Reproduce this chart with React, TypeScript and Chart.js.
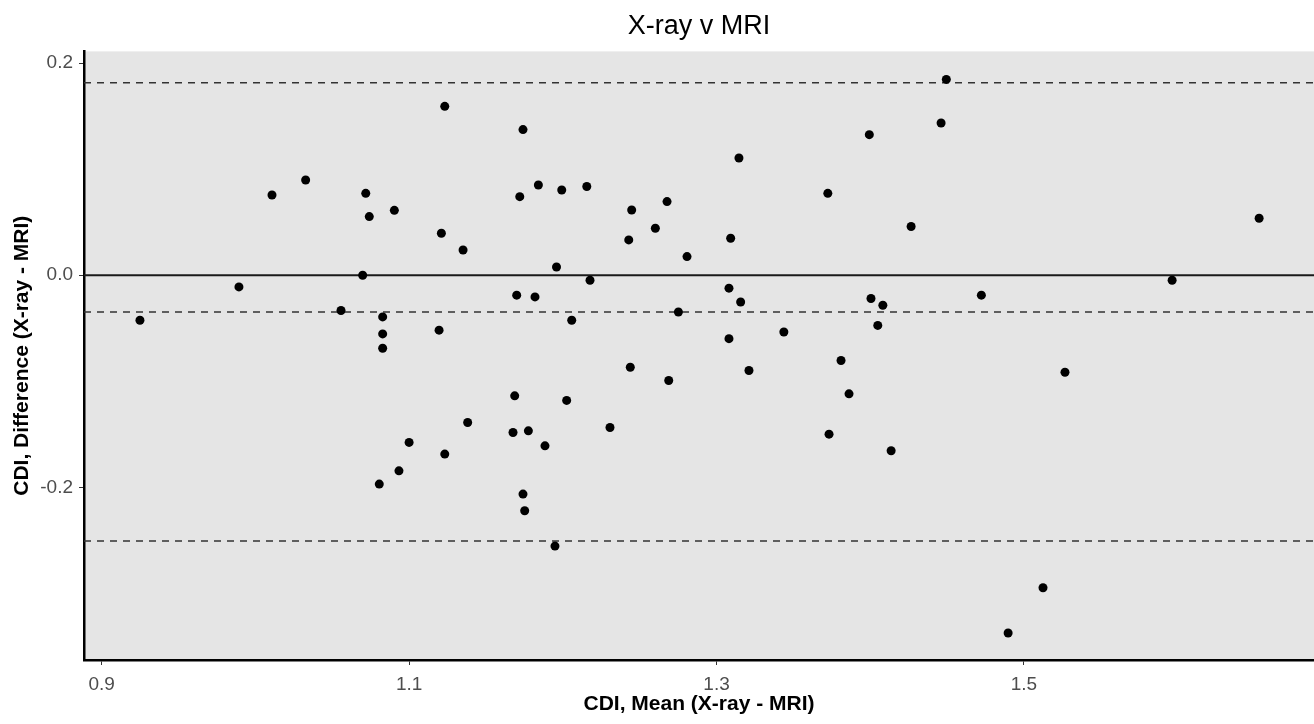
import React, { useEffect, useRef } from 'react';
import { Chart, registerables } from 'chart.js';

Chart.register(...registerables);

// CDI mean of X-ray and MRI (x) and their difference (y), one entry per subject
const meanX = [
  0.9249, 0.9893, 1.0108, 1.0327, 1.0557, 1.0698, 1.0718, 1.0741, 1.0904, 1.0828,
  1.0828, 1.0828, 1.1195, 1.1210, 1.1232, 1.1351, 1.1381, 1.1000, 1.1232, 1.0934,
  1.0806, 1.1741, 1.1720, 1.1841, 1.1993, 1.2156, 1.2448, 1.2429, 1.2602, 1.2678,
  1.2808, 1.1959, 1.2177, 1.1700, 1.1819, 1.2058, 1.2752, 1.3081, 1.3157, 1.3081,
  1.3438, 1.3146, 1.3092, 1.3724, 1.3994, 1.4005, 1.4082, 1.4049, 1.3810, 1.3211,
  1.2439, 1.2689, 1.3862, 1.1687, 1.2025, 1.2307, 1.1676, 1.1776, 1.3732, 1.1884,
  1.4136, 1.1741, 1.1752, 1.1949, 1.4495, 1.4461, 1.4266, 1.6530, 1.5964, 1.4723,
  1.5267, 1.5124, 1.4897,
];
const diffY = [
  -0.0424, -0.0110, 0.0756, 0.0898, -0.0332, 0.0000, 0.0772, 0.0553, 0.0612, -0.0393,
  -0.0553, -0.0688, -0.0518, 0.0396, 0.1592, 0.0238, -0.1388, -0.1576, -0.1686, -0.1844,
  -0.1969, 0.1373, 0.0741, 0.0851, 0.0804, 0.0836, 0.0615, 0.0333, 0.0443, 0.0694,
  0.0176, 0.0078, -0.0047, -0.0188, -0.0204, -0.0424, -0.0347, -0.0122, -0.0252, -0.0598,
  -0.0535, 0.1105, 0.0349, 0.0772, 0.1325, -0.0219, -0.0283, -0.0473, -0.0804, -0.0898,
  -0.0867, -0.0992, -0.1118, -0.1137, -0.1180, -0.1435, -0.1482, -0.1467, -0.1498, -0.1608,
  -0.1655, -0.2063, -0.2220, -0.2553, 0.1846, 0.1435, 0.0459, 0.0537, -0.0047, -0.0188,
  -0.0914, -0.2946, -0.3373,
];

// Bland-Altman reference lines
const bias = -0.0346;
const upperLoA = 0.1815;
const lowerLoA = -0.2506;
const zeroLine = 0;

// Axis ticks and ranges
const xTicks = [0.9, 1.1, 1.3, 1.5];
const yTicks = [-0.2, 0.0, 0.2];
const X_MIN = 0.8885;
const X_MAX = 1.6887;
const Y_MIN = -0.3627;
const Y_MAX = 0.211;

const FONT = "'Liberation Sans', Arial, Helvetica, sans-serif";

const panelBackground = {
  id: 'panelBackground',
  beforeDraw(chart: any) {
    const { ctx, chartArea } = chart;
    if (!chartArea) return;
    ctx.save();
    ctx.fillStyle = '#E5E5E5';
    ctx.fillRect(chartArea.left, chartArea.top, chartArea.right - chartArea.left, chartArea.bottom - chartArea.top);
    ctx.restore();
  },
};

function hLine(y: number) {
  return [
    { x: X_MIN, y },
    { x: X_MAX, y },
  ];
}

export default function App() {
  const canvasRef = useRef<HTMLCanvasElement | null>(null);

  useEffect(() => {
    if (!canvasRef.current) return;
    const points = meanX.map((x, i) => ({ x, y: diffY[i] }));
    const chart = new Chart(canvasRef.current, {
      type: 'scatter',
      data: {
        datasets: [
          {
            label: 'Subjects',
            data: points,
            pointRadius: 4.5,
            pointBackgroundColor: '#000000',
            pointBorderColor: '#000000',
            pointBorderWidth: 0,
            showLine: false,
          },
          {
            label: 'Zero',
            data: hLine(zeroLine),
            showLine: true,
            borderColor: '#1a1a1a',
            borderWidth: 1.8,
            pointRadius: 0,
          },
          {
            label: 'Bias',
            data: hLine(bias),
            showLine: true,
            borderColor: '#333333',
            borderWidth: 1.5,
            borderDash: [7, 6],
            pointRadius: 0,
          },
          {
            label: 'Upper LoA',
            data: hLine(upperLoA),
            showLine: true,
            borderColor: '#333333',
            borderWidth: 1.5,
            borderDash: [7, 6],
            pointRadius: 0,
          },
          {
            label: 'Lower LoA',
            data: hLine(lowerLoA),
            showLine: true,
            borderColor: '#333333',
            borderWidth: 1.5,
            borderDash: [7, 6],
            pointRadius: 0,
          },
        ],
      },
      options: {
        responsive: false,
        animation: false,
        layout: { autoPadding: false, padding: { left: 0, right: 0, top: 0, bottom: 0 } },
        plugins: {
          legend: { display: false },
          tooltip: { enabled: false },
          title: {
            display: true,
            fullSize: false,
            text: 'X-ray v MRI',
            color: '#000000',
            font: { family: FONT, size: 27, weight: 'normal' },
            padding: { top: 10, bottom: 9 },
          },
        },
        scales: {
          x: {
            type: 'linear',
            min: X_MIN,
            max: X_MAX,
            afterBuildTicks: (scale: any) => {
              scale.ticks = xTicks.map((v) => ({ value: v }));
            },
            afterFit: (scale: any) => {
              scale.height = 64;
              scale.paddingLeft = 0;
              scale.paddingRight = 0;
            },
            grid: {
              display: true,
              drawOnChartArea: false,
              drawTicks: true,
              tickLength: 5,
              tickColor: '#333333',
              tickWidth: 1,
            },
            border: { display: true, color: '#000000', width: 2.5 },
            ticks: {
              color: '#4D4D4D',
              padding: 8,
              font: { family: FONT, size: 19 },
              callback: (v: any) => Number(v).toFixed(1),
            },
            title: {
              display: true,
              text: 'CDI, Mean (X-ray - MRI)',
              color: '#000000',
              font: { family: FONT, size: 21, weight: 'bold' },
              padding: { top: 0, bottom: 7 },
            },
          },
          y: {
            type: 'linear',
            min: Y_MIN,
            max: Y_MAX,
            afterBuildTicks: (scale: any) => {
              scale.ticks = yTicks.map((v) => ({ value: v }));
            },
            afterFit: (scale: any) => {
              scale.width = 84;
              scale.paddingTop = 0;
              scale.paddingBottom = 0;
            },
            grid: {
              display: true,
              drawOnChartArea: false,
              drawTicks: true,
              tickLength: 5,
              tickColor: '#333333',
              tickWidth: 1,
            },
            border: { display: true, color: '#000000', width: 2.5 },
            ticks: {
              color: '#4D4D4D',
              padding: 6,
              font: { family: FONT, size: 19 },
              callback: (v: any) => Number(v).toFixed(1),
            },
            title: {
              display: true,
              text: 'CDI, Difference (X-ray - MRI)',
              color: '#000000',
              font: { family: FONT, size: 21, weight: 'bold' },
              padding: { top: 10, bottom: 0 },
            },
          },
        },
      },
      plugins: [panelBackground],
    } as any);
    return () => chart.destroy();
  }, []);

  return (
    <div style={{ position: 'fixed', left: 0, top: 0, width: 1314, height: 724, background: '#ffffff' }}>
      <canvas ref={canvasRef} width={1314} height={724} style={{ display: 'block' }} />
    </div>
  );
}
